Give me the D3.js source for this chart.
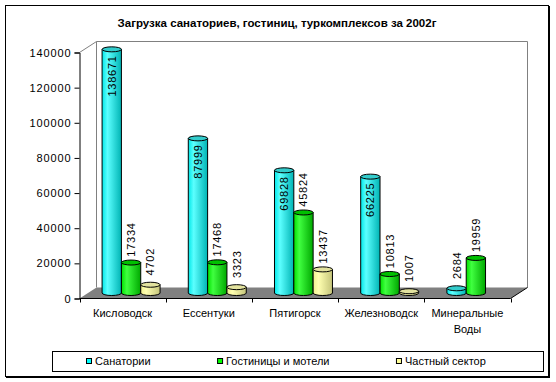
<!DOCTYPE html>
<html><head><meta charset="utf-8">
<script src="https://cdn.jsdelivr.net/npm/d3@7"></script>
<style>
html,body{margin:0;padding:0;background:#fff;}
text{font-family:"Liberation Sans",Arial,sans-serif;fill:#000;}
</style></head>
<body><svg id="c" width="556" height="382"></svg>
<script>
const title = "Загрузка санаториев, гостиниц, туркомплексов за 2002г";
const categories = ["Кисловодск","Ессентуки","Пятигорск","Железноводск","Минеральные Воды"];
const seriesNames = ["Санатории","Гостиницы и мотели","Частный сектор"];
const sanatorii = [138671, 87999, 69828, 66225, 2684];
const gostinitsy = [17334, 17468, 45824, 10813, 19959];
const chastny = [4702, 3323, 13437, 1007, null];
const yTicks = [0,20000,40000,60000,80000,100000,120000,140000];

const seriesValues = [sanatorii, gostinitsy, chastny];
const colors = [
  {base:"#00FFFF", g:["#00E8E8","#5CFFFF","#00B4B4"], top:"#33CCCC"},
  {base:"#00FF00", g:["#00E000","#40FF40","#00A800"], top:"#00C000"},
  {base:"#FFFF99", g:["#F0F08E","#FFFFB0","#C4C47A"], top:"#E2E29E"}
];

const svg = d3.select("#c");
const defs = svg.append("defs");
colors.forEach((c,i)=>{
  const lg = defs.append("linearGradient").attr("id","g"+i).attr("x1","0").attr("x2","1").attr("y1","0").attr("y2","0");
  lg.append("stop").attr("offset","0%").attr("stop-color",c.g[0]);
  lg.append("stop").attr("offset","28%").attr("stop-color",c.g[1]);
  lg.append("stop").attr("offset","100%").attr("stop-color",c.g[2]);
});

// chart area border
svg.append("rect").attr("x",5.5).attr("y",5.5).attr("width",543).attr("height",371)
  .attr("fill","#fff").attr("stroke","#000");
svg.append("line").attr("x1",549.5).attr("x2",549.5).attr("y1",6).attr("y2",378).attr("stroke","#000");
svg.append("line").attr("x1",6).attr("x2",550).attr("y1",377.5).attr("y2",377.5).attr("stroke","#000");

svg.append("text").attr("x",277).attr("y",27).attr("text-anchor","middle")
  .style("font-size","11.5px").style("font-weight","bold").text(title);

const DX = 17, DY = -11;
const x0 = d3.scaleBand().domain(categories).range([79.5,510.5]).padding(0);
const y = d3.scaleLinear().domain([0,140000]).range([298.5,52.5]);
const bw = x0.bandwidth();
const x1 = d3.scaleBand().domain(seriesNames).range([bw*0.1635, bw*0.836]).padding(0);

const gray = "#808080";
// back walls
const yT = y(140000), yB = y(0);
svg.append("path").attr("d",`M${x0.range()[0]},${yT}L${x0.range()[0]+DX},${yT+DY}H${x0.range()[1]+DX}V${yB+DY}`)
  .attr("fill","none").attr("stroke",gray);
svg.append("line").attr("x1",x0.range()[0]+DX).attr("x2",x0.range()[0]+DX).attr("y1",yT+DY).attr("y2",yB+DY).attr("stroke",gray);
// floor
const xl = x0.range()[0], xr = x0.range()[1];
svg.append("path").attr("d",`M${xl},${yB}L${xr},${yB}L${xr+DX},${yB+DY}L${xl+DX},${yB+DY}Z`).attr("fill",gray);
svg.append("line").attr("x1",xr).attr("y1",yB).attr("x2",xr+DX).attr("y2",yB+DY).attr("stroke","#000");

// y axis
const yAxis = d3.axisLeft(y).tickValues(yTicks).tickSize(5).tickPadding(3).tickFormat(d3.format("d"));
const ga = svg.append("g").attr("transform",`translate(${xl},0)`).call(yAxis);
ga.select(".domain").attr("stroke","#000");
ga.selectAll("text").style("font-size","11px").style("letter-spacing","0.9px").style("font-family","'Liberation Sans',Arial,sans-serif").attr("fill","#000");

// x axis
const gx = svg.append("g");
gx.append("line").attr("x1",xl).attr("x2",xr).attr("y1",yB).attr("y2",yB).attr("stroke","#000");
const bounds = categories.map(c=>x0(c)).concat([xr]);
gx.selectAll("line.t").data(bounds).join("line").attr("class","t")
  .attr("x1",d=>Math.round(d)+0.5).attr("x2",d=>Math.round(d)+0.5).attr("y1",yB).attr("y2",yB+4).attr("stroke","#000");
categories.forEach(c=>{
  const t = gx.append("text").attr("x",x0(c)+bw/2).attr("y",317).attr("text-anchor","middle").style("font-size","11px");
  const words = c.split(" ");
  let line = [], lineNo = 0;
  let ts = t.append("tspan").attr("x",x0(c)+bw/2).attr("dy",0);
  words.forEach(w=>{
    line.push(w); ts.text(line.join(" "));
    if (ts.node().getComputedTextLength() > bw-6 && line.length>1){
      line.pop(); ts.text(line.join(" ")); line=[w]; lineNo++;
      ts = t.append("tspan").attr("x",x0(c)+bw/2).attr("dy",16).text(w);
    }
  });
});

// bars (cylinders)
const RY = 2.5;
const bars = svg.append("g").attr("transform",`translate(${DX/2},${DY/2})`);
categories.forEach((c,ci)=>{
  seriesNames.forEach((s,si)=>{
    const v = seriesValues[si][ci];
    if (v==null) return;
    const bx = x0(c)+x1(s), w = x1.bandwidth(), rx = w/2;
    const yt = y(v), yb = y(0);
    bars.append("path")
      .attr("d",`M${bx},${yt}L${bx},${yb}A${rx},${RY} 0 0 0 ${bx+w},${yb}L${bx+w},${yt}Z`)
      .attr("fill",`url(#g${si})`).attr("stroke","#000").attr("stroke-width",1);
    bars.append("ellipse").attr("cx",bx+rx).attr("cy",yt).attr("rx",rx).attr("ry",RY)
      .attr("fill",colors[si].top).attr("stroke","#000");
    const inside = si===0 && (yb-yt) > 50;
    const lx = bx+rx, ly = inside ? yt+6 : yt-23;
    bars.append("text").attr("transform",`translate(${lx},${ly}) rotate(-90)`)
      .attr("text-anchor", inside ? "end" : "middle").attr("dy","0.36em")
      .style("font-size","11px").style("letter-spacing","0.75px").text(v);
  });
});

// legend
const lg = svg.append("g");
lg.append("rect").attr("x",52.5).attr("y",351.5).attr("width",491).attr("height",20).attr("fill","#fff").attr("stroke","#000");
let lxp = 86.5;
seriesNames.forEach((s,si)=>{
  lg.append("rect").attr("x",lxp).attr("y",358.5).attr("width",5).attr("height",5).attr("fill",colors[si].base).attr("stroke","#000");
  const t = lg.append("text").attr("x",lxp+8.5).attr("y",365).style("font-size","11px").text(s);
  lxp = lxp + 8.5 + t.node().getComputedTextLength() + 67;
});
</script></body></html>
